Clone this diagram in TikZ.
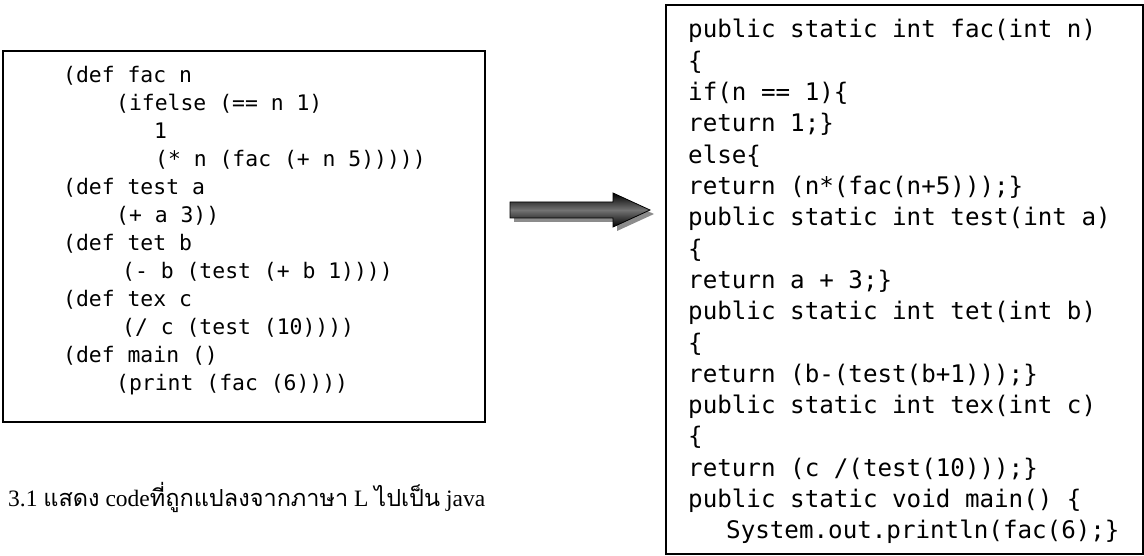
\documentclass[tikz,border=0pt]{standalone}
\usepackage{fontspec}
\setmainfont{Liberation Serif}
\newfontfamily\codefont{DejaVu Sans Mono}
\newfontfamily\thaifont[Script=Thai]{Loma}
\begin{document}
\begin{tikzpicture}[x=1pt,y=-1pt,
  box/.style={draw=black,line width=2pt,fill=white,inner sep=0pt},
  lisp/.style={anchor=base west,inner sep=0pt,font=\codefont\fontsize{21.4}{28}\selectfont},
  java/.style={anchor=base west,inner sep=0pt,font=\codefont\fontsize{24.2}{31}\selectfont},
  caption/.style={anchor=base west,inner sep=0pt,font=\fontsize{23.5}{28}\selectfont}]
\useasboundingbox (0,0) rectangle (1144,556);

% source program box
\node[box,minimum width=482pt,minimum height=371pt] (lbox) at (244,236.5) {};
\node[lisp] (l1)  at (63,82.5)  {(def fac n};
\node[lisp] (l2)  at (116,110.5) {(ifelse (== n 1)};
\node[lisp] (l3)  at (154,138.5) {1};
\node[lisp] (l4)  at (155,166.5) {(* n (fac (+ n 5)))))};
\node[lisp] (l5)  at (63,194.5) {(def test a};
\node[lisp] (l6)  at (116,222.5) {(+ a 3))};
\node[lisp] (l7)  at (63,250.5) {(def tet b};
\node[lisp] (l8)  at (122,278.5) {(- b (test (+ b 1))))};
\node[lisp] (l9)  at (63,306.5) {(def tex c};
\node[lisp] (l10) at (122,334.5) {(/ c (test (10))))};
\node[lisp] (l11) at (63,362.5) {(def main ()};
\node[lisp] (l12) at (116,390.5) {(print (fac (6))))};

% translated java box
\node[box,minimum width=477pt,minimum height=549pt] (rbox) at (904.5,279.5) {};
\node[java] (j1)  at (688,38.0)  {public static int fac(int n)};
\node[java] (j2)  at (688,69.3)  {\{};
\node[java] (j3)  at (688,100.6) {if(n == 1)\{};
\node[java] (j4)  at (688,131.9) {return 1;\}};
\node[java] (j5)  at (688,163.2) {else\{};
\node[java] (j6)  at (688,194.5) {return (n*(fac(n+5)));\}};
\node[java] (j7)  at (688,225.8) {public static int test(int a)};
\node[java] (j8)  at (688,257.1) {\{};
\node[java] (j9)  at (688,288.4) {return a + 3;\}};
\node[java] (j10) at (688,319.7) {public static int tet(int b)};
\node[java] (j11) at (688,351.0) {\{};
\node[java] (j12) at (688,382.3) {return (b-(test(b+1)));\}};
\node[java] (j13) at (688,413.6) {public static int tex(int c)};
\node[java] (j14) at (688,444.9) {\{};
\node[java] (j15) at (688,476.2) {return (c /(test(10)));\}};
\node[java] (j16) at (688,507.5) {public static void main() \{};
\node[java] (j17) at (726,538.8) {System.out.println(fac(6);\}};

% block arrow with drop shadow
\fill[black!45] (514,206) -- (617,206) -- (617,197) -- (654,214) -- (617,231) -- (617,222) -- (514,222) -- cycle;
\shade[top color=black,bottom color=black,middle color=black!55,draw=black,line width=0.8pt]
  (510,202) -- (613,202) -- (613,193) -- (650,210) -- (613,227) -- (613,218) -- (510,218) -- cycle;

% caption
\node[caption] (cap) at (8,506) {3.1 {\thaifont แสดง} code{\thaifont ที่ถูกแปลงจากภาษา} L {\thaifont ไปเป็น} java};
\end{tikzpicture}
\end{document}
